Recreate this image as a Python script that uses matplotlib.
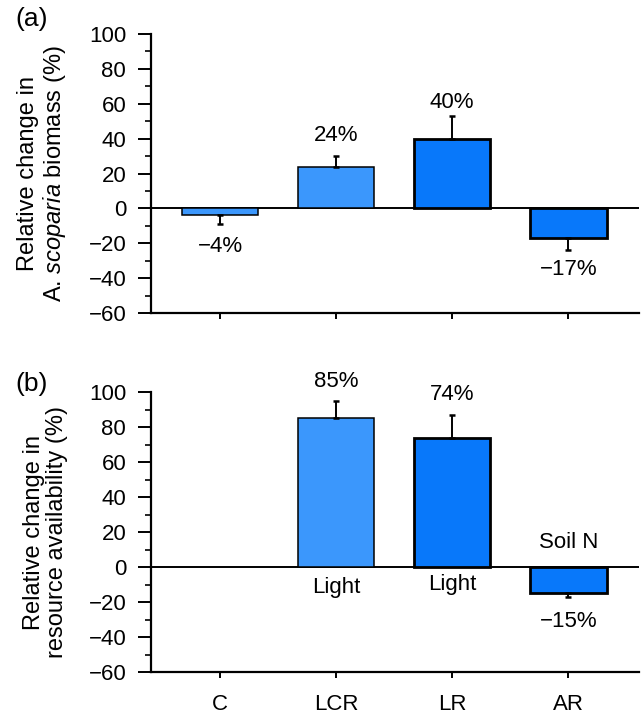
import matplotlib
matplotlib.use("Agg")
import matplotlib.pyplot as plt
from matplotlib.ticker import MultipleLocator

plt.rcParams['font.family'] = ['Liberation Sans', 'DejaVu Sans']
plt.rcParams['mathtext.fontset'] = 'custom'
plt.rcParams['mathtext.it'] = 'Liberation Sans:italic'
plt.rcParams['mathtext.rm'] = 'Liberation Sans'

categories = ["C", "LCR", "LR", "AR"]
biomass = [-4, 24, 40, -17]
biomass_err = [5, 6, 13, 7]
biomass_labels = ["\u22124%", "24%", "40%", "\u221217%"]
biomass_label_y = [-22, 42, 61, -35]

resource = [0, 85, 74, -15]
resource_err = [0, 10, 13, 2]
resource_labels = ["", "85%", "74%", "\u221215%"]
resource_label_y = [0, 106, 98.5, -31]
resource_names = ["", "Light", "Light", "Soil N"]
resource_name_y = [0, -12, -10, 14]

light_blue = "#3b97fc"
dark_blue = "#0878fa"
colors_a = [light_blue, light_blue, dark_blue, dark_blue]
edge_w = [1.1, 1.1, 2.0, 2.0]

W, H = 642, 717
fig = plt.figure(figsize=(W / 100, H / 100), dpi=100)

def px_axes(left, right, top, bottom):
    return fig.add_axes([left / W, 1 - bottom / H, (right - left) / W, (bottom - top) / H])

ax_a = px_axes(150.5, 639, 34, 313)
ax_b = px_axes(150.5, 639, 392, 672)

x = list(range(len(categories)))
FS = 16
LFS = 17

def style(ax, show_xlabels):
    ax.set_xlim(-0.6, 3.61)
    ax.set_ylim(-60, 100)
    ax.spines['top'].set_visible(False)
    ax.spines['right'].set_visible(False)
    ax.spines['left'].set_linewidth(1.6)
    ax.spines['bottom'].set_linewidth(1.6)
    ax.yaxis.set_major_locator(MultipleLocator(20))
    ax.yaxis.set_minor_locator(MultipleLocator(10))
    ax.tick_params(axis='y', which='major', length=9.5, width=1.4, labelsize=FS, pad=8)
    ax.tick_params(axis='y', which='minor', length=4, width=1.2)
    ax.tick_params(axis='x', which='major', length=4, width=1.4, labelsize=FS, pad=12)
    ax.set_xticks(x)
    if show_xlabels:
        ax.set_xticklabels(categories)
    else:
        ax.set_xticklabels([])
    ax.set_yticks([-60, -40, -20, 0, 20, 40, 60, 80, 100])
    ax.set_yticklabels(["\u221260", "\u221240", "\u221220", "0", "20", "40", "60", "80", "100"])
    ax.axhline(0, color='black', lw=1.4, zorder=1)

def draw(ax, vals, errs, cols):
    for i, (v, e, c, lw) in enumerate(zip(vals, errs, cols, edge_w)):
        if v == 0:
            continue
        ax.bar(x[i], v, width=0.66, color=c, edgecolor='black', linewidth=lw, zorder=2)
        yerr = [[0], [e]] if v > 0 else [[e], [0]]
        ax.errorbar(x[i], v, yerr=yerr, fmt='none', ecolor='black',
                    elinewidth=1.4, capsize=2.5, capthick=1.8, zorder=3)

# Panel (a)
style(ax_a, False)
draw(ax_a, biomass, biomass_err, colors_a)
for i, (lab, yy) in enumerate(zip(biomass_labels, biomass_label_y)):
    ax_a.text(x[i], yy, lab, ha='center', va='center', fontsize=FS, clip_on=False)
ax_a.set_ylabel("Relative change in\nA. $\\mathit{scoparia}$ biomass (%)", fontsize=LFS,
                linespacing=1.1)
ax_a.yaxis.set_label_coords(-0.168, 0.5)
fig.text(32 / W, 1 - 19 / H, "(a)", ha='center', va='center', fontsize=19)

# Panel (b)
style(ax_b, True)
draw(ax_b, resource, resource_err, colors_a)
for i, (lab, yy) in enumerate(zip(resource_labels, resource_label_y)):
    if lab:
        ax_b.text(x[i], yy, lab, ha='center', va='center', fontsize=FS, clip_on=False)
for i, (lab, yy) in enumerate(zip(resource_names, resource_name_y)):
    if lab:
        ax_b.text(x[i], yy, lab, ha='center', va='center', fontsize=FS, clip_on=False)
ax_b.set_ylabel("Relative change in\nresource availability (%)", fontsize=LFS, linespacing=1.1)
ax_b.yaxis.set_label_coords(-0.168, 0.5)
fig.text(32 / W, 1 - 384 / H, "(b)", ha='center', va='center', fontsize=19)

fig.savefig("out.png", dpi=100)
